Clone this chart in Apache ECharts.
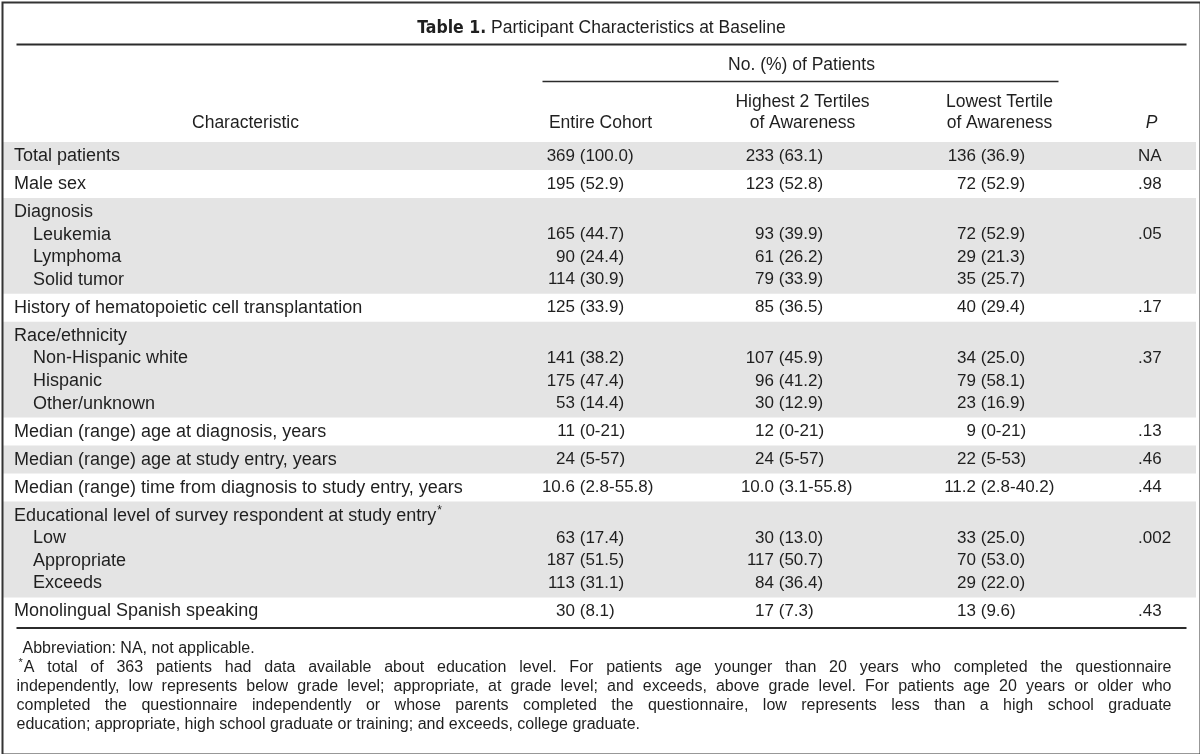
<!DOCTYPE html>
<html>
<head>
<meta charset="utf-8">
<script src="https://cdn.jsdelivr.net/npm/echarts@6/dist/echarts.min.js"></script>
<style>html,body{margin:0;padding:0;background:#fff}#chart{width:1200px;height:754px}</style>
</head>
<body>
<div id="chart"></div>
<script>
// ---------------- DATA ----------------
const titleBold = 'Table 1.';
const titleText = 'Participant Characteristics at Baseline';
const spanHeader = 'No. (%) of Patients';
const columnHeaders = [['Characteristic'], ['Entire Cohort'], ['Highest 2 Tertiles', 'of Awareness'], ['Lowest Tertile', 'of Awareness'], ['P']];

const characteristics = [
  'Total patients', 'Male sex', 'Diagnosis', 'Leukemia', 'Lymphoma', 'Solid tumor',
  'History of hematopoietic cell transplantation', 'Race/ethnicity', 'Non-Hispanic white',
  'Hispanic', 'Other/unknown', 'Median (range) age at diagnosis, years',
  'Median (range) age at study entry, years', 'Median (range) time from diagnosis to study entry, years',
  'Educational level of survey respondent at study entry', 'Low', 'Appropriate', 'Exceeds',
  'Monolingual Spanish speaking'
];
const rowFootnoteMark = ['', '', '', '', '', '', '', '', '', '', '', '', '', '', '*', '', '', '', ''];
const rowGroup  = [0, 1, 2, 2, 2, 2, 3, 4, 4, 4, 4, 5, 6, 7, 8, 8, 8, 8, 9];
const rowIndent = [0, 0, 0, 1, 1, 1, 0, 0, 1, 1, 1, 0, 0, 0, 0, 1, 1, 1, 0];
const entireCohort = [
  '369 (100.0)', '195 (52.9)', '', '165 (44.7)', '90 (24.4)', '114 (30.9)', '125 (33.9)', '',
  '141 (38.2)', '175 (47.4)', '53 (14.4)', '11 (0-21)', '24 (5-57)', '10.6 (2.8-55.8)', '',
  '63 (17.4)', '187 (51.5)', '113 (31.1)', '30 (8.1)'
];
const highestTertiles = [
  '233 (63.1)', '123 (52.8)', '', '93 (39.9)', '61 (26.2)', '79 (33.9)', '85 (36.5)', '',
  '107 (45.9)', '96 (41.2)', '30 (12.9)', '12 (0-21)', '24 (5-57)', '10.0 (3.1-55.8)', '',
  '30 (13.0)', '117 (50.7)', '84 (36.4)', '17 (7.3)'
];
const lowestTertile = [
  '136 (36.9)', '72 (52.9)', '', '72 (52.9)', '29 (21.3)', '35 (25.7)', '40 (29.4)', '',
  '34 (25.0)', '79 (58.1)', '23 (16.9)', '9 (0-21)', '22 (5-53)', '11.2 (2.8-40.2)', '',
  '33 (25.0)', '70 (53.0)', '29 (22.0)', '13 (9.6)'
];
const pValues = ['NA', '.98', '', '.05', '', '', '.17', '', '.37', '', '', '.13', '.46', '.44', '', '.002', '', '', '.43'];

const footnoteLines = [
  'Abbreviation: NA, not applicable.',
  'A total of 363 patients had data available about education level. For patients age younger than 20 years who completed the questionnaire',
  'independently, low represents below grade level; appropriate, at grade level; and exceeds, above grade level. For patients age 20 years or older who',
  'completed the questionnaire independently or whose parents completed the questionnaire, low represents less than a high school graduate',
  'education; appropriate, high school graduate or training; and exceeds, college graduate.'
];
const footnoteMarks = ['', '*', '', '', ''];
const footnoteJustify = [false, true, true, true, false];

// ---------------- LAYOUT / STYLE ----------------
const FONT_FAMILY = '"Liberation Sans", Arial, Helvetica, sans-serif';
const NUM_SIZE = 17;
const LABEL_SIZE = 18;
const HEAD_SIZE = 17.5;
const FOOT_SIZE = 16;
const TEXT_COLOR = '#1f1f1f';
const BAND_COLOR = '#e4e4e4';
const RULE_COLOR = '#2b2b2b';
const LINE_H = 22.6;
const GROUP_PAD = 5.4;
const TABLE_TOP = 142;
const nGroups = Math.max.apply(null, rowGroup) + 1;
const TABLE_H = characteristics.length * LINE_H + nGroups * GROUP_PAD;
const TABLE_BOTTOM = TABLE_TOP + TABLE_H;

const LABEL_X = 14, INDENT_X = 33;
const numAnchors = [575, 774, 976];   // right edge of count / median
const P_X = 1138;
const headerCenters = [244, 599, 801, 998, 1150];

const numFont = NUM_SIZE + 'px ' + FONT_FAMILY;
const labelFont = LABEL_SIZE + 'px ' + FONT_FAMILY;
const headFont = HEAD_SIZE + 'px ' + FONT_FAMILY;
const footFont = FOOT_SIZE + 'px ' + FONT_FAMILY;
const mctx = document.createElement('canvas').getContext('2d');
function measure(t, font) { mctx.font = font; return mctx.measureText(t).width; }
const spaceW = measure(' ', numFont);

function rowCenter(i) { return rowGroup[i] * GROUP_PAD + GROUP_PAD / 2 + i * LINE_H + LINE_H / 2; }

// group bands
const groupData = [];
for (let g = 0; g < nGroups; g++) {
  const idx = rowGroup.map((v, i) => v === g ? i : -1).filter(i => i >= 0);
  groupData.push([g, idx[0], idx[idx.length - 1]]);
}

function txt(text, x, y, align, font) {
  return { type: 'text', style: { text: text, x: x, y: y, font: font || numFont, fill: TEXT_COLOR,
    textAlign: align || 'left', textVerticalAlign: 'middle' } };
}

// ---------------- GRAPHIC (title, header, rules, footnotes) ----------------
const graphics = [];
graphics.push({ type: 'rect', shape: { x: 1, y: 1, width: 1198, height: 752 }, style: { fill: 'none', stroke: '#333', lineWidth: 2 }, z: 100 });
// title
const boldFont = 'bold ' + HEAD_SIZE + 'px "Liberation Sans Narrow", "DejaVu Sans Condensed", ' + FONT_FAMILY;
const wBold = measure(titleBold, boldFont), wSp = measure(' ', headFont), wTitle = measure(titleText, headFont);
const titleX0 = 600 - (wBold + wSp + wTitle) / 2;
const TITLE_Y = 27;
graphics.push(txt(titleBold, titleX0, TITLE_Y, 'left', boldFont));
graphics.push(txt(titleText, titleX0 + wBold + wSp, TITLE_Y, 'left', headFont));
// rules
function hline(x1, x2, y, w) { return { type: 'line', shape: { x1: x1, y1: y, x2: x2, y2: y }, style: { stroke: RULE_COLOR, lineWidth: w } }; }
graphics.push(hline(15, 1185, 43, 2));
graphics.push(hline(541, 1057, 80, 1.5));
graphics.push(hline(15, 1185, TABLE_TOP, 2));
graphics.push(hline(15, 1185, TABLE_BOTTOM + 1, 2));
// header texts
graphics.push(txt(spanHeader, 800, 64, 'center', headFont));
columnHeaders.forEach((lines, c) => {
  lines.forEach((t, k) => {
    const y = 122 - (lines.length - 1 - k) * 21;
    const f = c === 4 ? 'italic ' + headFont : headFont;
    graphics.push(txt(t, headerCenters[c], y, 'center', f));
  });
});
// footnotes (justified lines are laid out word by word)
const FOOT_Y0 = 647, FOOT_DY = 19, FOOT_X0 = 15, FOOT_X1 = 1170;
const starFont = '11px ' + FONT_FAMILY;
footnoteLines.forEach((line, li) => {
  const y = FOOT_Y0 + li * FOOT_DY;
  let x0 = li === 0 ? 21 : FOOT_X0;
  if (footnoteMarks[li]) {
    graphics.push(txt(footnoteMarks[li], x0 + 2, y - 5, 'left', starFont));
    x0 += 2 + measure(footnoteMarks[li], starFont) + 1;
  }
  const words = line.split(' ');
  const widths = words.map(w => measure(w, footFont));
  const total = widths.reduce((a, b) => a + b, 0);
  let gap = measure(' ', footFont);
  if (footnoteJustify[li]) gap = Math.max(2, (FOOT_X1 - x0 - total) / (words.length - 1));
  let x = x0;
  words.forEach((w, k) => {
    graphics.push(txt(w, x, y, 'left', footFont));
    x += widths[k] + gap;
  });
});

// ---------------- CHART ----------------
const chart = echarts.init(document.getElementById('chart'), null, { renderer: 'canvas' });
chart.setOption({
  backgroundColor: '#ffffff',
  animation: false,
  grid: { left: 0, right: 0, top: TABLE_TOP, height: TABLE_H, containLabel: false },
  xAxis: { type: 'value', min: 0, max: 1200, show: false },
  yAxis: { type: 'value', min: 0, max: TABLE_H, inverse: true, show: false },
  series: [
    {
      type: 'custom', name: 'bands', clip: false, z: 1,
      data: groupData,
      renderItem: function (params, api) {
        const g = api.value(0), s = api.value(1), e = api.value(2);
        if (g % 2 !== 0) return null;
        const p0 = api.coord([2, s * LINE_H + g * GROUP_PAD]);
        const p1 = api.coord([1196, (e + 1) * LINE_H + (g + 1) * GROUP_PAD]);
        return { type: 'rect', shape: { x: p0[0], y: p0[1], width: p1[0] - p0[0], height: p1[1] - p0[1] }, style: { fill: BAND_COLOR } };
      }
    },
    {
      type: 'custom', name: 'rows', clip: false, z: 2,
      data: characteristics.map((c, i) => [i, rowCenter(i)]),
      renderItem: function (params, api) {
        const i = params.dataIndex;
        const yc = api.coord([0, api.value(1)])[1];
        const children = [];
        const lx = api.coord([rowIndent[i] ? INDENT_X : LABEL_X, 0])[0];
        children.push(txt(characteristics[i], lx, yc, 'left', labelFont));
        if (rowFootnoteMark[i]) {
          const w = measure(characteristics[i], labelFont);
          children.push(txt(rowFootnoteMark[i], lx + w + 1, yc - 5, 'left', '12px ' + FONT_FAMILY));
        }
        [entireCohort, highestTertiles, lowestTertile].forEach((col, c) => {
          const v = col[i];
          if (!v) return;
          const sp = v.indexOf(' ');
          const ax = api.coord([numAnchors[c], 0])[0];
          children.push(txt(v.slice(0, sp), ax, yc, 'right'));
          children.push(txt(v.slice(sp + 1), ax + spaceW, yc, 'left'));
        });
        if (pValues[i]) children.push(txt(pValues[i], api.coord([P_X, 0])[0], yc, 'left'));
        return { type: 'group', children: children };
      }
    }
  ],
  graphic: [{ type: 'group', left: 0, top: 0, children: graphics }]
});
</script>
</body>
</html>
